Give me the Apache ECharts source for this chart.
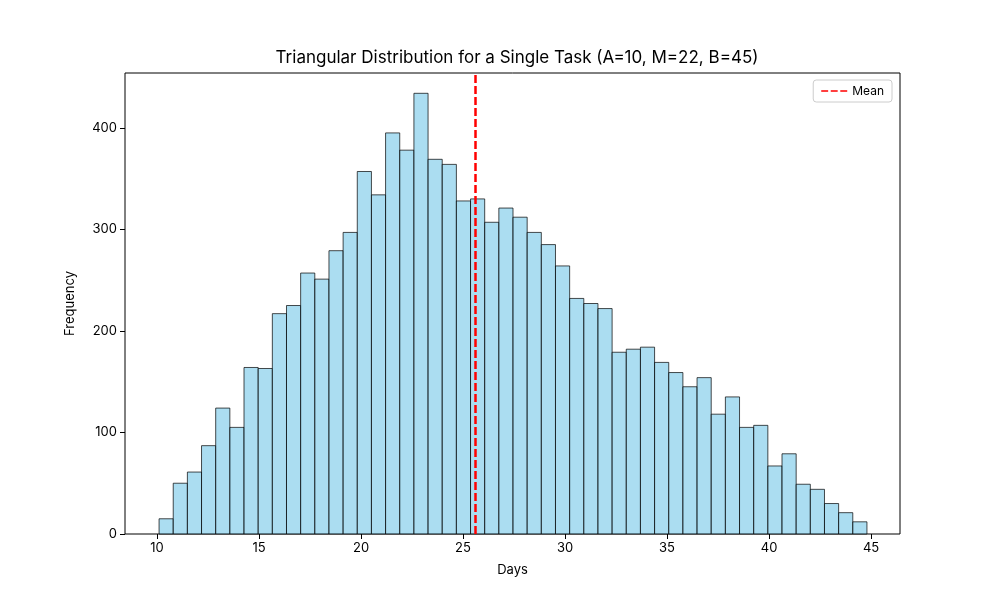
<!DOCTYPE html>
<html><head><meta charset="utf-8">
<script src="https://cdn.jsdelivr.net/npm/echarts@6/dist/echarts.min.js"></script>
<style>html,body{margin:0;background:#fff}#c{width:1000px;height:600px}</style>
</head><body><div id="c"></div>
<script>
// histogram: first bin edge, bin width, counts
const binStart = 10.1;
const binWidth = 0.694;
const counts = [15, 50, 61, 87, 124, 105, 164, 163, 217, 225, 257, 251, 279, 297, 357, 334, 395, 378, 434, 369,
  364, 328, 330, 307, 321, 312, 297, 285, 264, 232, 227, 222, 179, 182, 184, 169, 159, 145, 154, 118,
  135, 105, 107, 67, 79, 49, 44, 30, 21, 12];
const meanValue = 25.6;
const xTicks = [10, 15, 20, 25, 30, 35, 40, 45];

const bins = counts.map((c, i) => [binStart + i * binWidth, binStart + (i + 1) * binWidth, c]);
const font = 'Inter, "DejaVu Sans", sans-serif';

const chart = echarts.init(document.getElementById('c'));
chart.setOption({
  animation: false,
  title: { text: 'Triangular Distribution for a Single Task (A=10, M=22, B=45)', left: 512, top: 44, textAlign: 'center',
    textStyle: { fontFamily: font, fontSize: 17, fontWeight: 'normal', color: '#000' } },
  grid: { left: 125, right: 100, top: 73, bottom: 66, show: true, borderColor: '#000', borderWidth: 1 },
  legend: { right: 108, top: 80, orient: 'vertical', borderColor: '#ccc', borderWidth: 1, borderRadius: 3, padding: [5, 8],
    itemWidth: 26, itemHeight: 10, textStyle: { fontFamily: font, fontSize: 12, color: '#000' },
    data: [{ name: 'Mean', icon: 'path://M0,4 L8,4 L8,6 L0,6 Z M11,4 L19,4 L19,6 L11,6 Z M22,4 L30,4 L30,6 L22,6 Z', itemStyle: { color: '#ff0000' } }] },
  xAxis: { type: 'value', min: 8.43, max: 46.42, interval: 5,
    name: 'Days', nameLocation: 'middle', nameGap: 30, nameTextStyle: { fontFamily: font, fontSize: 13, color: '#000' },
    axisLine: { show: false }, splitLine: { show: false },
    axisTick: { show: true, lineStyle: { color: '#000' }, customValues: xTicks },
    axisLabel: { fontFamily: font, fontSize: 13, color: '#000', customValues: xTicks } },
  yAxis: { type: 'value', min: 0, max: 454, interval: 100,
    name: 'Frequency', nameLocation: 'middle', nameGap: 48, nameTextStyle: { fontFamily: font, fontSize: 13, color: '#000' },
    axisLine: { show: false }, splitLine: { show: false },
    axisTick: { show: true, lineStyle: { color: '#000' } },
    axisLabel: { fontFamily: font, fontSize: 13, color: '#000', showMaxLabel: false } },
  series: [{
    type: 'custom', data: bins,
    renderItem: (params, api) => {
      const p0 = api.coord([api.value(0), 0]);
      const p1 = api.coord([api.value(1), api.value(2)]);
      return { type: 'rect', shape: { x: p0[0], y: p1[1], width: p1[0] - p0[0], height: p0[1] - p1[1] },
        style: { fill: 'rgba(135,206,235,0.7)', stroke: 'rgba(0,0,0,0.7)', lineWidth: 1 } };
    }
  }, {
    name: 'Mean', type: 'line', data: [], itemStyle: { color: '#ff0000' },
    markLine: { silent: true, symbol: 'none', label: { show: false },
      lineStyle: { color: '#ff0000', type: [8, 3], width: 2.5 }, data: [{ xAxis: meanValue }] }
  }]
});
</script></body></html>
